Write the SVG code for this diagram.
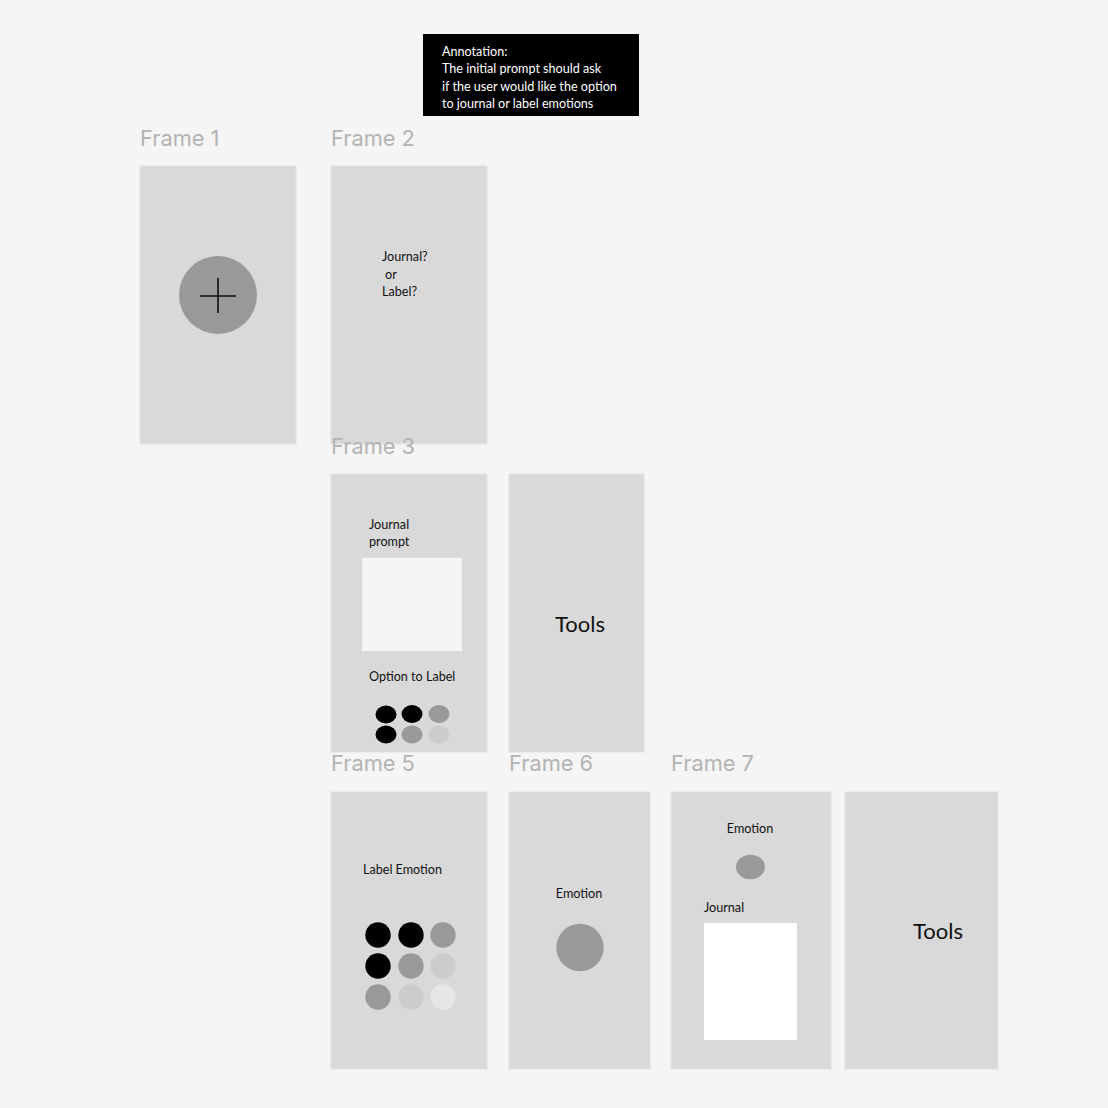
<svg xmlns="http://www.w3.org/2000/svg" width="1108" height="1108" viewBox="0 0 1108 1108">
<style>
.frame{fill:#d9d9d9;stroke:#e2e2e2;stroke-width:1}
.flabel{font-family:Inter,"Liberation Sans",sans-serif;font-size:21.8px;fill:#b3b3b3}
.t{font-family:Lato,"Liberation Sans",sans-serif;font-size:12.6px;fill:#111}
.tools{font-family:Lato,"Liberation Sans",sans-serif;font-size:22px;fill:#111;text-anchor:middle}
.ann{font-family:Lato,"Liberation Sans",sans-serif;font-size:12.6px;fill:#fff}
.k{fill:#000}.m{fill:#999}.l{fill:#ccc}.xl{fill:#e6e6e6}
</style>
<rect width="1108" height="1108" fill="#f5f5f5"/>
<g id="connectors"></g>
<g id="annotation">
<rect x="423" y="34" width="216" height="82" fill="#000"/>
<text class="ann" x="442" y="56">Annotation:</text>
<text class="ann" x="442" y="73">The initial prompt should ask</text>
<text class="ann" x="442" y="91">if the user would like the option</text>
<text class="ann" x="442" y="108">to journal or label emotions</text>
</g>
<g id="frame1">
<rect class="frame" x="140" y="166" width="156" height="278"/>
<circle class="m" cx="218" cy="295" r="39"/>
<path d="M200 296H236M218 278V313" stroke="#111" stroke-width="1.6" fill="none"/>
<text class="flabel" x="140" y="146">Frame 1</text>
</g>
<g id="frame2">
<rect class="frame" x="331" y="166" width="156" height="278"/>
<text class="t" x="382" y="261">Journal?</text>
<text class="t" x="385" y="279">or</text>
<text class="t" x="382" y="296">Label?</text>
<text class="flabel" x="331" y="146">Frame 2</text>
</g>
<g id="frame3">
<rect class="frame" x="331" y="474" width="156" height="278"/>
<text class="t" x="369" y="529">Journal</text>
<text class="t" x="369" y="546">prompt</text>
<rect x="362" y="558" width="100" height="93" fill="#f5f5f5"/>
<text class="t" x="369" y="681">Option to Label</text>
<ellipse class="k" cx="386" cy="714.5" rx="10.5" ry="9"/>
<ellipse class="k" cx="412" cy="714" rx="10.5" ry="9"/>
<ellipse class="m" cx="439" cy="714" rx="10.5" ry="9"/>
<ellipse class="k" cx="386" cy="734.5" rx="10.5" ry="9"/>
<ellipse class="m" cx="412" cy="734.5" rx="10.5" ry="9"/>
<ellipse class="l" cx="439" cy="734.5" rx="10.5" ry="9"/>
<text class="flabel" x="331" y="454">Frame 3</text>
</g>
<g id="tools1">
<rect class="frame" x="509" y="474" width="135" height="278"/>
<text class="tools" x="580" y="632">Tools</text>
</g>
<g id="frame5">
<rect class="frame" x="331" y="792" width="156" height="277"/>
<text class="t" x="363" y="874">Label Emotion</text>
<circle class="k" cx="378" cy="935" r="12.7"/>
<circle class="k" cx="411" cy="935" r="12.7"/>
<circle class="m" cx="443" cy="935" r="12.7"/>
<circle class="k" cx="378" cy="966" r="12.7"/>
<circle class="m" cx="411" cy="966" r="12.7"/>
<circle class="l" cx="443" cy="966" r="12.7"/>
<circle class="m" cx="378" cy="997" r="12.7"/>
<circle class="l" cx="411" cy="997" r="12.7"/>
<circle class="xl" cx="443" cy="997" r="12.7"/>
<text class="flabel" x="331" y="771">Frame 5</text>
</g>
<g id="frame6">
<rect class="frame" x="509" y="792" width="141" height="277"/>
<text class="t" x="579" y="898" text-anchor="middle">Emotion</text>
<circle class="m" cx="580" cy="947.5" r="23.7"/>
<text class="flabel" x="509" y="771">Frame 6</text>
</g>
<g id="frame7">
<rect class="frame" x="671" y="792" width="160" height="277"/>
<text class="t" x="750" y="833" text-anchor="middle">Emotion</text>
<ellipse class="m" cx="750.5" cy="867" rx="14.5" ry="12.2"/>
<text class="t" x="704" y="912">Journal</text>
<rect x="704" y="923" width="93" height="117" fill="#fff"/>
<text class="flabel" x="671" y="771">Frame 7</text>
</g>
<g id="tools2">
<rect class="frame" x="845" y="792" width="153" height="277"/>
<text class="tools" x="938" y="939">Tools</text>
</g>
</svg>
